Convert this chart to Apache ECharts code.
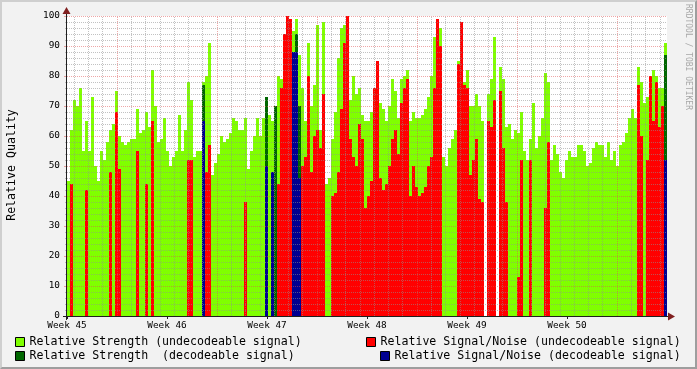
<!DOCTYPE html>
<html><head><meta charset="utf-8">
<script src="https://cdn.jsdelivr.net/npm/echarts@6/dist/echarts.min.js"></script>
<style>
html,body{margin:0;padding:0;background:#F2F2F2;}
#wrap{position:relative;width:697px;height:369px;overflow:hidden;}
#c{position:absolute;left:0;top:0;width:697px;height:369px;}
#shade{position:absolute;left:0;top:0;width:697px;height:369px;box-sizing:border-box;border-top:2px solid #CFCFCF;border-left:2px solid #CFCFCF;border-right:2px solid #9E9E9E;border-bottom:2px solid #9E9E9E;pointer-events:none;}
</style></head><body>
<div id="wrap"><div id="c"></div><div id="shade"></div></div>
<script>
// ---- data (one bin = 1/200 of the 6-week span) ----
const weekLabels = ['Week 45','Week 46','Week 47','Week 48','Week 49','Week 50'];
const seriesNames = ['Relative Strength (undecodeable signal)','Relative Signal/Noise (undecodeable signal)','Relative Strength  (decodeable signal)','Relative Signal/Noise (decodeable signal)'];
const strengthUndecodeable = [
 45,62,72,70,76,55,65,55,73,50,
 45,55,52,58,62,64,75,60,58,57,
 58,59,59,69,61,62,68,63,82,70,
 58,59,66,55,50,53,55,67,55,62,
 78,72,53,55,55,78,80,91,47,51,
 54,60,58,59,61,66,65,62,62,66,
 49,55,60,66,60,66,68,67,65,64,
 80,79,65,0,86,95,99,87,76,65,
 91,70,77,97,62,98,44,46,59,68,
 86,96,97,88,72,80,74,76,67,65,
 65,68,67,78,71,69,65,70,79,75,
 66,79,80,82,65,68,66,66,67,69,
 73,80,93,96,96,53,50,56,59,62,
 85,89,78,82,70,70,74,70,65,null,
 74,79,93,null,83,79,63,64,59,62,
 61,68,55,52,59,71,56,60,66,81,
 78,52,57,54,48,46,52,55,53,53,
 57,57,55,50,51,56,58,57,57,53,
 58,52,55,50,57,58,61,66,69,66,
 83,78,71,73,76,82,80,76,76,91];
// [bin, value]
const snrUndecodeable = [[1,44],[6,42],[14,48],[16,68],[17,49],[23,55],[26,44],[28,65],[40,52],[41,52],[46,48],[47,57],[59,38],
 [69,40],[70,44],[71,76],[72,94],[73,100],[74,99],[78,50],[79,53],[80,80],[81,48],[82,60],[83,62],[84,56],[85,74],
 [88,40],[89,41],[90,48],[91,69],[92,91],[93,100],[94,59],[95,53],[96,50],[97,64],[98,59],[99,36],[100,40],[101,45],[102,76],[103,85],
 [104,46],[105,42],[106,44],[107,50],[108,59],[109,62],[110,54],[111,71],[112,76],[113,79],[114,40],[115,50],[116,43],[117,40],[118,41],[119,43],
 [120,50],[121,53],[122,76],[123,99],[124,90],[130,84],[131,98],[132,77],[133,76],[134,47],[135,52],[136,59],[137,39],[138,38],
 [140,65],[141,63],[142,72],[144,75],[145,56],[146,38],[150,13],[151,52],[154,52],[159,36],[160,58],
 [190,77],[191,60],[193,52],[194,80],[195,65],[196,78],[197,63],[198,70]];
const strengthDecodeable = [[45,77],[66,73],[69,70],[76,94],[77,70],[199,87]];
const snrDecodeable = [[45,65],[66,50],[68,48],[75,88],[76,88],[77,46],[199,52]];

const FONT = 'DejaVu Sans Mono';
const GRID = 'rgba(143,143,143,0.55)';
const MGRID = 'rgba(222,79,79,0.5)';
const bins = strengthUndecodeable.map((_, i) => i);
const days = 42;
const dayLines = [];
for (let d = 0; d < days; d++) {
  const major = (d % 7) === 3;
  dayLines.push({xAxis: d + 0.5, lineStyle: {color: major ? MGRID : GRID, type: [1, 1], width: 1}});
}

const chart = echarts.init(document.getElementById('c'), null, {renderer: 'canvas'});
const barBase = {type: 'bar', xAxisIndex: 0, yAxisIndex: 0, barWidth: '100%', barGap: '-100%', barCategoryGap: '0%', silent: true, z: 2};
const legendBase = {selectedMode: false, icon: 'rect', itemWidth: 9, itemHeight: 9, padding: 0,
  itemStyle: {borderColor: '#000', borderWidth: 1},
  textStyle: {fontFamily: FONT, fontSize: 11.6, color: '#000'}};
chart.setOption({
  animation: false,
  backgroundColor: '#F2F2F2',
  grid: {left: 67, top: 16, width: 600, height: 300, show: true, backgroundColor: '#FFFFFF', borderWidth: 0},
  xAxis: [
    {type: 'category', data: bins, boundaryGap: true, axisLine: {show: false}, axisTick: {show: false}, axisLabel: {show: false}, splitLine: {show: false}},
    {type: 'value', min: 0, max: days, interval: 7, position: 'bottom', z: 5,
      axisLine: {show: false}, axisTick: {show: true, length: 3, lineStyle: {color: '#1F1F1F'}},
      axisLabel: {formatter: v => weekLabels[Math.round(v / 7)] || '', fontFamily: FONT, fontSize: 9.4, color: '#000', margin: 5, showMaxLabel: false},
      splitLine: {show: false}}
  ],
  yAxis: {type: 'value', min: 0, max: 100, interval: 10, z: 5,
    axisLine: {show: false},
    axisTick: {show: true, length: 3, lineStyle: {color: MGRID}},
    minorTick: {show: true, splitNumber: 5, length: 2, lineStyle: {color: GRID}},
    splitLine: {show: true, lineStyle: {color: MGRID, type: [1, 1], width: 1}},
    minorSplitLine: {show: true, lineStyle: {color: GRID, type: [1, 1], width: 1}},
    axisLabel: {fontFamily: FONT, fontSize: 9.4, color: '#000', margin: 7}},
  legend: [
    Object.assign({data: [seriesNames[0]], left: 15, top: 336}, legendBase),
    Object.assign({data: [seriesNames[1]], left: 366, top: 336}, legendBase),
    Object.assign({data: [seriesNames[2]], left: 15, top: 350}, legendBase),
    Object.assign({data: [seriesNames[3]], left: 380, top: 350}, legendBase)
  ],
  series: [
    Object.assign({name: seriesNames[0], data: strengthUndecodeable, itemStyle: {color: '#80FF00'}}, barBase),
    Object.assign({name: seriesNames[1], data: snrUndecodeable, itemStyle: {color: '#FF0000'}}, barBase),
    Object.assign({name: seriesNames[2], data: strengthDecodeable, itemStyle: {color: '#006600'}}, barBase),
    Object.assign({name: seriesNames[3], data: snrDecodeable, itemStyle: {color: '#000090'}}, barBase),
    {type: 'line', xAxisIndex: 1, yAxisIndex: 0, data: [], silent: true, z: 6,
      markLine: {silent: true, symbol: 'none', animation: false, label: {show: false}, data: dayLines}}
  ],
  graphic: [
    {type: 'line', z: 100, shape: {x1: 63, y1: 316.5, x2: 671, y2: 316.5}, style: {stroke: '#1F1F1F', lineWidth: 1}},
    {type: 'line', z: 100, shape: {x1: 66.5, y1: 320, x2: 66.5, y2: 12}, style: {stroke: '#1F1F1F', lineWidth: 1}},
    {type: 'polygon', z: 101, shape: {points: [[668, 312.5], [668, 320.5], [675, 316.5]]}, style: {fill: '#801F1F'}},
    {type: 'polygon', z: 101, shape: {points: [[62.5, 14], [70.5, 14], [66.5, 7]]}, style: {fill: '#801F1F'}},
    {type: 'text', z: 100, x: 12, y: 165, rotation: Math.PI / 2,
      style: {text: 'Relative Quality', font: '11.6px "DejaVu Sans Mono"', fill: '#000', align: 'center', verticalAlign: 'middle'}},
    {type: 'text', z: 100, x: 688, y: 4, rotation: -Math.PI / 2,
      style: {text: 'RRDTOOL / TOBI OETIKER', font: '8px "DejaVu Sans Mono"', fill: '#A8A8A8', align: 'left', verticalAlign: 'middle'}}
  ]
});
</script>
</body></html>
